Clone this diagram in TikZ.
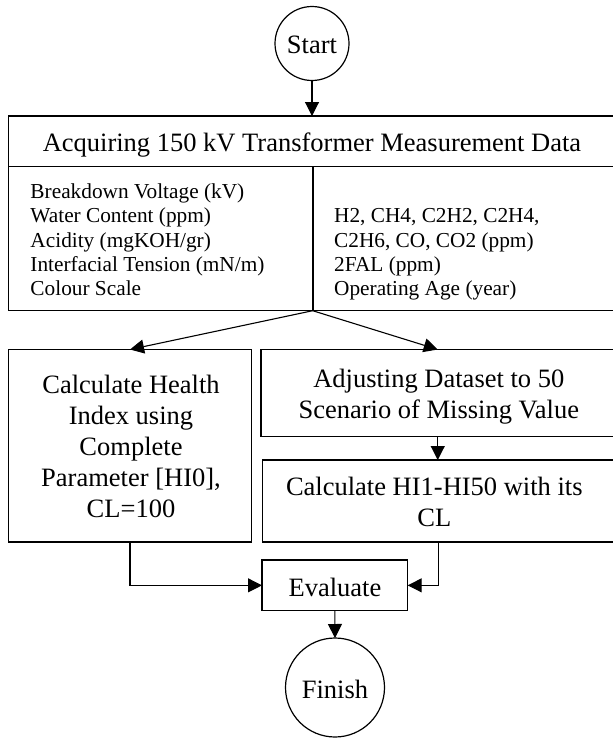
\documentclass[tikz,border=0pt]{standalone}
\usepackage{fontspec}
\setmainfont{Liberation Serif}
\usetikzlibrary{arrows.meta}
% a top-aligned stack of lines, its baseline on the first line
\newcommand\stacktext[2]{\begin{tabular}[t]{@{}#1@{}}#2\end{tabular}}
\begin{document}
\begin{tikzpicture}[x=1pt,y=-1pt,
  box/.style={draw,line width=1.5pt,inner sep=0pt,outer sep=0pt,anchor=north west},
  term/.style={draw,circle,line width=1.2pt,inner sep=0pt,outer sep=0pt},
  txt/.style={inner sep=0pt,outer sep=0pt,anchor=base,font=\fontsize{26.5}{31}\selectfont},
  lst/.style={inner sep=0pt,outer sep=0pt,anchor=base west,font=\fontsize{21.3}{24.4}\selectfont},
  flow/.style={line width=1.1pt,-{Triangle[length=14pt,width=14pt]}},
  link/.style={line width=1.1pt}
]
\useasboundingbox (0,0) rectangle (613,739);

% terminals
\node[term,minimum size=74pt] (start) at (312,43.5) {};
\node[term,minimum size=99pt] (finish) at (335,687.5) {};

% data acquisition block
\node[box,minimum width=605.9pt,minimum height=50.7pt] (acqhead) at (8.6,116) {};
\node[box,minimum width=605.9pt,minimum height=144pt] (acqbody) at (8.6,166.7) {};
\coordinate (divtop) at (312.7,166.7);
\coordinate (divbot) at (312.7,310.7);
\draw[line width=2pt] (divtop) -- (divbot);

% process boxes
\node[box,minimum width=242.8pt,minimum height=192.5pt] (hi0) at (8.6,349.5) {};
\node[box,minimum width=353.5pt,minimum height=87.2pt] (adjust) at (261,349.5) {};
\node[box,minimum width=351.8pt,minimum height=82pt] (hin) at (262.7,460) {};
\node[box,minimum width=145.7pt,minimum height=50.7pt] (eval) at (262,560) {};

% texts
\node[txt] (tstart) at (312,53.3) {Start};
\node[txt] (tfinish) at (335,698.3) {Finish};
\node[txt] (thead) at (312,151.7) {Acquiring 150 kV Transformer Measurement Data};
\node[lst] (tleft) at (30.5,198.3) {\stacktext{l}{Breakdown Voltage (kV)\\Water Content (ppm)\\Acidity (mgKOH/gr)\\Interfacial Tension (mN/m)\\Colour Scale}};
\node[lst] (tright) at (334.2,222.7) {\stacktext{l}{H2, CH4, C2H2, C2H4,\\C2H6, CO, CO2 (ppm)\\2FAL (ppm)\\Operating Age (year)}};
\node[txt] (thi0) at (131,393) {\stacktext{c}{Calculate Health\\Index using\\Complete\\Parameter [HI0],\\CL=100}};
\node[txt] (tadjust) at (438.8,387) {\stacktext{c}{Adjusting Dataset to 50\\Scenario of Missing Value}};
\node[txt] (thin) at (434.3,495) {\stacktext{c}{Calculate HI1-HI50 with its\\CL}};
\node[txt] (teval) at (335,596) {Evaluate};

% connectors
\draw[flow] (start.south) -- (start.south |- acqhead.north);
\draw[flow] (divbot) -- (hi0.north);
\draw[flow] (divbot) -- (adjust.north);
\draw[flow] (adjust.south) -- (adjust.south |- hin.north);
\draw[flow] (hi0.south) |- (eval.west);
\draw[flow] (hin.south) |- (eval.east);
\draw[flow] (eval.south) -- (finish.north);
\end{tikzpicture}
\end{document}
